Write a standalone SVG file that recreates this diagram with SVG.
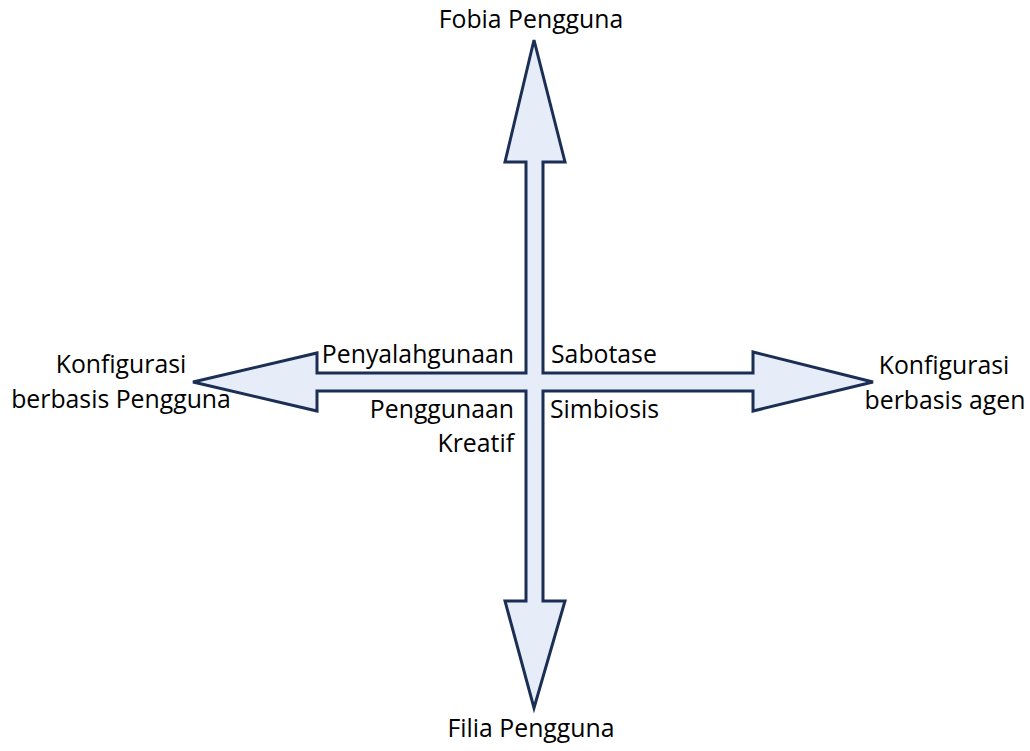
<svg xmlns="http://www.w3.org/2000/svg" width="1030" height="751" viewBox="0 0 1030 751">
<style>
.t{font-family:"Open Sans","Liberation Sans",sans-serif;font-size:24.8px;fill:#000}
.m{text-anchor:middle}
.e{text-anchor:end}
.arrow{fill:#E6EDF8;stroke:#1B2F55;stroke-width:3;stroke-linejoin:miter}
</style>
<rect width="1030" height="751" fill="#fff"/>
<g id="connectors">
<polygon class="arrow" points="534,40 565,162 543,162 543,373 753,373 753,352 873,382 753,411 753,391 543,391 543,601 565,601 534,708 505,601 526,601 526,391 317,391 317,411 193,382 317,353 317,373 526,373 526,162 505,162"/>
</g>
<g id="fobia"><text class="t m" x="531" y="28">Fobia Pengguna</text></g>
<g id="filia"><text class="t m" x="531" y="737">Filia Pengguna</text></g>
<g id="konf-pengguna"><text class="t m" x="121" y="373">Konfigurasi</text><text class="t m" x="121" y="408">berbasis Pengguna</text></g>
<g id="konf-agen"><text class="t m" x="944" y="374">Konfigurasi</text><text class="t m" x="945" y="409">berbasis agen</text></g>
<g id="penyalahgunaan"><text class="t e" x="514" y="363">Penyalahgunaan</text></g>
<g id="sabotase"><text class="t" x="551" y="363">Sabotase</text></g>
<g id="penggunaan-kreatif"><text class="t e" x="514" y="418">Penggunaan</text><text class="t e" x="514" y="452">Kreatif</text></g>
<g id="simbiosis"><text class="t" x="550" y="418">Simbiosis</text></g>
</svg>
